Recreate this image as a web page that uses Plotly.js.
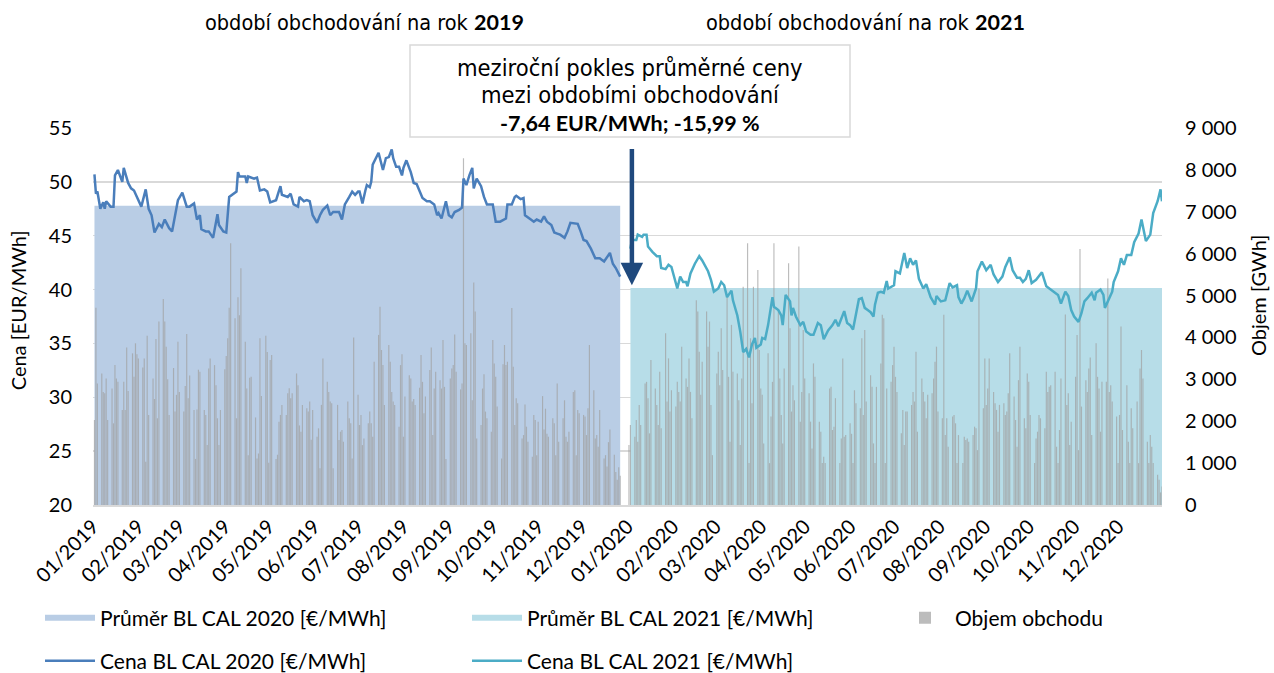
<!DOCTYPE html>
<html>
<head>
<meta charset="utf-8">
<script src="https://cdn.plot.ly/plotly-3.0.1.min.js"></script>
<style>
body { margin: 0; background: white; }
#graph { width: 1274px; height: 673px; }
</style>
</head>
<body>
<div id="graph"></div>
<script>
// cena BL CAL 2020 (obchodovani 2019) - den = pocet dni od 1.1.2019
var den2020 = [1,2,3,5,7,8,9,12,14,15,17,20,21,24,26,28,30,33,36,38,
	40,42,45,47,49,52,54,58,61,64,66,69,71,73,74,77,79,82,85,86,
	89,91,93,96,98,99,100,104,105,106,110,112,114,117,119,121,125,128,129,133,
	135,137,140,141,144,146,148,150,153,155,157,160,162,164,167,168,170,172,175,177,
	179,181,182,184,186,187,189,190,191,195,198,200,202,204,205,207,209,211,212,214,
	217,219,221,223,225,228,230,233,235,236,238,241,243,245,247,250,252,253,255,257,
	259,260,262,265,267,269,273,275,278,282,283,286,288,289,292,294,295,299,301,303,
	306,308,310,313,315,317,319,322,324,326,329,331,333,335,337,340,343,346,349,351,
	353,355,357,360];
var cena2020 = [50.7,48.9,49.1,47.5,48.1,47.5,48.2,47.7,47.7,50.6,51.1,50.0,51.3,49.9,49.4,49.2,48.6,47.7,49.3,47.5,
	46.9,45.3,46.1,45.8,46.5,45.7,45.4,48.3,49.0,47.7,47.7,48.0,46.5,46.9,45.6,45.4,45.4,44.8,47.0,46.0,
	45.4,45.3,48.6,48.9,49.1,50.9,50.5,50.5,49.9,50.5,50.3,50.4,49.2,49.3,49.1,48.1,48.3,49.6,48.8,48.6,
	48.9,47.9,47.7,48.6,48.2,48.3,48.2,46.9,46.2,46.9,47.4,47.8,46.9,47.2,47.2,47.2,46.5,47.9,48.6,49.1,
	48.8,49.1,49.1,48.0,49.2,49.7,49.5,50.0,51.6,52.7,51.1,52.2,52.3,53.0,52.2,51.4,51.4,50.6,51.3,52.0,
	50.9,49.9,49.8,49.1,48.5,48.2,48.2,47.9,46.9,47.1,46.6,48.2,46.9,46.7,47.2,47.4,47.6,50.3,49.7,50.6,
	51.3,49.4,50.3,49.6,48.6,47.9,47.9,46.3,46.3,46.6,47.9,47.9,48.6,48.7,48.4,48.5,46.9,46.5,46.3,46.5,
	46.3,46.8,46.3,46.0,45.3,45.2,45.1,44.8,45.4,46.2,46.1,46.1,45.4,44.6,44.5,43.8,42.9,42.9,42.6,43.0,
	43.4,42.4,42.0,41.2];

// cena BL CAL 2021 (obchodovani 2020)
var den2021 = [367,368,371,372,375,376,378,379,382,385,387,388,391,393,395,397,399,401,403,405,
	406,408,411,414,416,420,422,424,427,429,431,433,436,437,440,442,444,446,448,450,
	452,453,456,457,459,461,464,465,468,470,471,473,476,477,478,480,483,485,487,490,
	492,495,497,499,502,505,507,509,510,513,515,517,519,521,523,525,527,529,531,533,
	534,536,538,540,542,543,547,548,551,554,556,558,560,562,564,567,569,572,575,576,
	579,582,585,587,590,591,593,595,597,600,603,604,607,610,613,615,618,621,623,626,
	628,631,633,635,637,639,641,644,648,651,653,657,659,661,664,666,668,670,673,675,
	677,679,681,682,684,685,688,690,691,694,696,697,700,702,704,706,709,711,714,716,
	719,722,724,727,729,730];
var cena2021 = [43.8,44.6,44.6,45.1,44.9,45.1,45.1,44.0,43.5,43.1,43.1,42.0,41.9,42.3,42.1,41.0,40.1,41.2,40.7,40.7,
	40.3,41.5,42.4,43.1,42.7,41.7,40.9,39.8,40.1,40.7,40.4,39.3,39.9,39.0,37.6,36.1,34.2,34.5,33.7,34.9,
	35.5,34.6,34.9,35.5,35.4,36.7,39.3,38.4,38.1,37.6,36.7,39.5,38.9,37.6,38.3,37.5,36.7,37.0,36.1,35.8,
	35.8,36.9,36.7,35.4,36.2,36.7,37.2,36.6,37.0,38.0,36.9,36.7,36.3,37.8,39.1,39.2,38.3,38.1,37.9,37.5,
	38.6,39.7,39.8,39.7,40.8,40.1,40.4,41.7,41.5,43.4,42.0,42.9,42.3,42.7,41.0,40.1,40.5,39.3,38.6,39.4,
	38.9,39.0,40.6,40.2,40.4,39.3,38.7,39.2,39.9,38.9,40.1,41.7,42.6,41.8,42.3,41.4,40.7,41.2,42.1,43.0,
	41.8,41.1,41.1,40.7,41.0,41.8,40.6,40.9,41.6,40.3,40.1,39.7,39.5,38.7,39.8,39.4,38.1,37.5,37.0,37.8,
	38.9,39.2,39.5,39.7,39.0,39.7,40.0,39.5,38.3,39.2,39.8,40.7,41.7,42.9,42.3,43.2,43.2,44.4,45.2,46.5,
	44.5,45.1,47.1,48.2,49.3,48.2];

// prumery za obdobi obchodovani
var prumer2020 = 47.78;
var prumer2021 = 40.14;

// objem obchodu [GWh] - obchodni dny (po-pa)
var objem2019 = [
	2030,4710,2900,3140,2700,2670,3020,2030,2780,1950,3340,3020,2940,2270,2940,2270,3760,2720,3620,3060,3860,3600,
	3500,3280,3500,1030,4040,2150,3020,2530,3960,2070,4380,4920,4380,3780,3000,2150,3270,2230,2630,3900,
	2700,2230,2840,4080,2550,3090,2270,1100,2280,3230,3180,2270,2150,1430,3260,3500,3340,2860,2070,1430,2270,
	3240,3560,3980,4710,6250,4460,2070,4960,4530,5650,3900,2780,1190,3040,3060,2090,1110,1230,3980,2600,4040,3650,
	1010,3460,3580,1100,1200,1990,2150,2390,2150,2670,2790,2550,2670,3140,2860,1900,1750,2390,2310,2230,2470,1560,2270,
	1630,1830,875,2390,3500,2940,2700,2470,2430,880,2390,1550,1750,1790,1510,2470,2070,1950,1110,4000,
	2630,1910,2150,1430,1590,1950,2230,1950,1630,3420,4060,4730,3700,3340,2390,3820,3420,2700,2470,2390,1870,3340,3600,
	1630,2590,3100,3020,2470,2530,2390,2800,3580,2940,2190,2590,3220,3760,1670,2780,3180,2980,2780,3940,2820,1100,
	3020,3260,3340,4070,3180,2760,2900,8280,3860,3820,4100,2500,5310,4620,1590,1910,2780,3120,2230,2070,1750,
	3940,3380,3060,2350,1110,3360,3820,3340,3420,4700,3300,1910,2550,2430,1590,1670,2400,1870,1510,1150,2150,2030,1190,
	1990,2600,1800,2300,1700,1630,2070,1950,1190,2900,1510,2070,2500,1630,1510,1750,2700,2740,1190,2270,2190,
	2150,2110,1670,2310,3820,2740,1590,1670,1390,2270,1110,1190,920,1500,1800,1200,790,600,900,700];
var objem2020 = [
	1430,1910,1630,2030,1510,2390,1910,2900,2940,2550,1710,3460,2780,2390,1910,3180,1830,4100,2470,3500,2230,2740,
	2350,2940,2700,2470,3780,3020,2820,3500,2700,2070,4890,4620,3660,2630,3420,4620,3780,4380,2390,1190,
	3140,3660,2860,4220,3220,5010,3060,1510,4300,3180,3140,2500,1430,3020,5210,6250,1000,3980,2430,5210,5610,3700,
	2780,2630,1470,3620,1000,2110,2940,6250,4620,3020,2150,1470,3260,5770,4220,2230,2860,2500,6170,1990,2700,4180,
	3020,2670,1990,1350,3380,3060,1990,1750,1000,1150,1000,2780,2820,1790,1870,2550,1000,1590,3500,1630,1670,
	1950,1700,1000,2740,2430,2310,3980,2150,4180,2470,3100,2820,1470,1000,2820,3380,4540,4460,1000,2780,2940,3340,
	3780,3060,2700,1710,2270,1430,2230,2230,2390,2700,2470,3660,1750,3020,2700,2470,2070,2630,2670,3020,3420,3780,2230,
	2070,4540,1670,2070,1390,2110,2150,1950,1000,1670,1000,1630,1550,1590,1510,1670,1870,1830,1310,5170,2310,
	3500,2390,2780,3500,2700,2430,2270,1750,2390,2430,2150,2230,2670,3620,2590,2030,1390,2980,3780,2070,1830,3140,
	2940,2150,1000,1590,1750,2150,2070,1830,3180,2700,2820,2860,3180,1390,1000,1790,3020,4550,2390,2670,1430,1990,
	3060,4060,1310,6110,2350,2980,2700,3260,3520,1670,3860,3060,2780,1750,2940,2940,5410,2700,2860,2470,2110,
	1000,2150,4260,1790,2860,1510,1000,2310,1830,2470,1000,3260,3700,3020,1510,1000,1670,1390,1000,720,600,300,440];

// prevod poctu dni na datum
function datum(d) {
	var t = new Date(Date.UTC(2019, 0, 1) + d * 86400000);
	return t.toISOString().slice(0, 10);
}

// seznam pracovnich dni mezi dvema daty
function pracovniDny(od, po) {
	var dny = [];
	var t = new Date(od + 'T00:00:00Z');
	var konec = new Date(po + 'T00:00:00Z');
	while (t <= konec) {
		var w = t.getUTCDay();
		if (w != 0 && w != 6) dny.push(t.toISOString().slice(0, 10));
		t = new Date(t.getTime() + 86400000);
	}
	return dny;
}

function formatCZ(num) {
	return num.toFixed(2).replace('.', ',');
}

var dny = pracovniDny('2019-01-02', '2019-12-27').slice(0, objem2019.length)
	.concat(pracovniDny('2020-01-02', '2020-12-31').slice(0, objem2020.length));
var objem = objem2019.concat(objem2020);

var x2020 = den2020.map(datum);
var x2021 = den2021.map(datum);

var data = [
	{
		x: [x2020[0], x2020[x2020.length - 1]],
		y: [prumer2020, prumer2020],
		name: 'Průměr BL CAL 2020 [€/MWh]',
		mode: 'none', fill: 'tozeroy', fillcolor: '#b9cde5',
		yaxis: 'y', legend: 'legend', hoverinfo: 'skip'
	},
	{
		x: [x2021[0], x2021[x2021.length - 1]],
		y: [prumer2021, prumer2021],
		name: 'Průměr BL CAL 2021 [€/MWh]',
		mode: 'none', fill: 'tozeroy', fillcolor: '#b7dde8',
		yaxis: 'y', legend: 'legend2', hoverinfo: 'skip'
	},
	{
		type: 'bar',
		x: dny,
		y: objem,
		name: 'Objem obchodu',
		marker: {color: 'rgba(160,160,160,0.7)', line: {width: 0}},
		yaxis: 'y2', legend: 'legend3'
	},
	{
		x: x2020,
		y: cena2020,
		name: 'Cena BL CAL 2020 [€/MWh]',
		mode: 'lines',
		line: {color: '#4a7ebb', width: 2.5},
		yaxis: 'y3', legend: 'legend4'
	},
	{
		x: x2021,
		y: cena2021,
		name: 'Cena BL CAL 2021 [€/MWh]',
		mode: 'lines',
		line: {color: '#4bacc6', width: 2.5},
		yaxis: 'y3', legend: 'legend5'
	}
];

// legenda - text zacina na x, symbol 50 px vlevo od textu
function legenda(x, y) {
	return {
		x: (x - 60) / 1274, y: 1 - y / 673, xref: 'container', yref: 'container',
		xanchor: 'left', yanchor: 'middle', orientation: 'h',
		itemwidth: 50,
		bgcolor: 'rgba(0,0,0,0)', borderwidth: 0,
		font: {family: 'Lato, sans-serif', size: 21, color: '#000'}
	};
}

var rozdil = prumer2021 - prumer2020;
var procent = rozdil / prumer2020 * 100;
var uzky = 'DejaVu Sans Condensed, Liberation Sans Narrow, Liberation Sans, sans-serif';
function tucne(t) {
	return '<span style="font-family:Lato;font-weight:bold">' + t + '</span>';
}
// text v ramecku (y v pixelech obrazku)
function radek(text, ypx, vel) {
	return {
		text: text, xref: 'paper', yref: 'paper',
		x: (630 - 93) / 1069, y: (505 - ypx) / 377,
		xanchor: 'center', yanchor: 'middle', showarrow: false,
		font: {family: uzky, size: vel}
	};
}

var layout = {
	width: 1274,
	height: 673,
	margin: {l: 93, r: 112, t: 128, b: 168},
	paper_bgcolor: 'white',
	plot_bgcolor: 'white',
	font: {family: 'Lato, sans-serif', size: 20, color: '#000'},
	separators: ', ',
	bargap: 0.2,
	showlegend: true,
	xaxis: {
		type: 'date',
		range: ['2019-01-01', '2020-12-31'],
		tick0: '2019-01-01', dtick: 'M1', tickformat: '%m/%Y',
		tickangle: -45, ticks: '',
		showgrid: false, zeroline: false,
		showline: true, linecolor: '#d9d9d9', linewidth: 2
	},
	yaxis: {
		range: [20, 55], dtick: 5, ticks: '',
		showgrid: true, gridcolor: '#d9d9d9', gridwidth: 1.5,
		zeroline: false, ticklabelstandoff: 20
	},
	yaxis2: {
		range: [0, 9000], dtick: 1000, ticks: '',
		overlaying: 'y', side: 'right',
		showgrid: false, zeroline: false,
		separatethousands: true, ticklabelstandoff: 22
	},
	yaxis3: {range: [20, 55], overlaying: 'y', visible: false},
	legend: legenda(100, 618),
	legend2: legenda(527, 618),
	legend3: legenda(955, 618),
	legend4: legenda(100, 661),
	legend5: legenda(527, 661),
	shapes: [
		{
			type: 'rect', xref: 'paper', yref: 'paper', layer: 'above',
			x0: (410 - 93) / 1069, x1: (850 - 93) / 1069,
			y0: (505 - 137) / 377, y1: (505 - 45) / 377,
			fillcolor: 'white', line: {color: '#d9d9d9', width: 1.5}
		}
	],
	annotations: [
		{
			text: 'období obchodování na rok ' + tucne('2019'),
			xref: 'paper', yref: 'paper', x: 0.2544, y: 1.281,
			xanchor: 'center', yanchor: 'middle',
			showarrow: false, font: {family: uzky, size: 21.5}
		},
		{
			text: 'období obchodování na rok ' + tucne('2021'),
			xref: 'paper', yref: 'paper', x: 0.7222, y: 1.281,
			xanchor: 'center', yanchor: 'middle',
			showarrow: false, font: {family: uzky, size: 21.5}
		},
		radek('meziroční pokles průměrné ceny', 68, 23.5),
		radek('mezi obdobími obchodování', 95, 23.5),
		radek(tucne(formatCZ(rozdil) + ' EUR/MWh; ' + formatCZ(procent) + ' %'), 123, 21.5),
		{
			text: '',
			xref: 'x', yref: 'y', x: '2020-01-04', y: 40.4,
			axref: 'x', ayref: 'y', ax: '2020-01-04', ay: 53.2,
			showarrow: true, arrowhead: 2, arrowsize: 1, arrowwidth: 4.5,
			arrowcolor: '#1f497d'
		},
		{
			text: 'Cena [EUR/MWh]',
			xref: 'paper', yref: 'paper', x: -0.070, y: 0.517,
			xanchor: 'center', yanchor: 'middle',
			textangle: -90, showarrow: false, font: {size: 20}
		},
		{
			text: 'Objem [GWh]',
			xref: 'paper', yref: 'paper', x: 1.0898, y: 0.557,
			xanchor: 'center', yanchor: 'middle',
			textangle: -90, showarrow: false, font: {size: 20}
		}
	]
};

Plotly.newPlot('graph', data, layout, {displayModeBar: false, staticPlot: true});
</script>
</body>
</html>
